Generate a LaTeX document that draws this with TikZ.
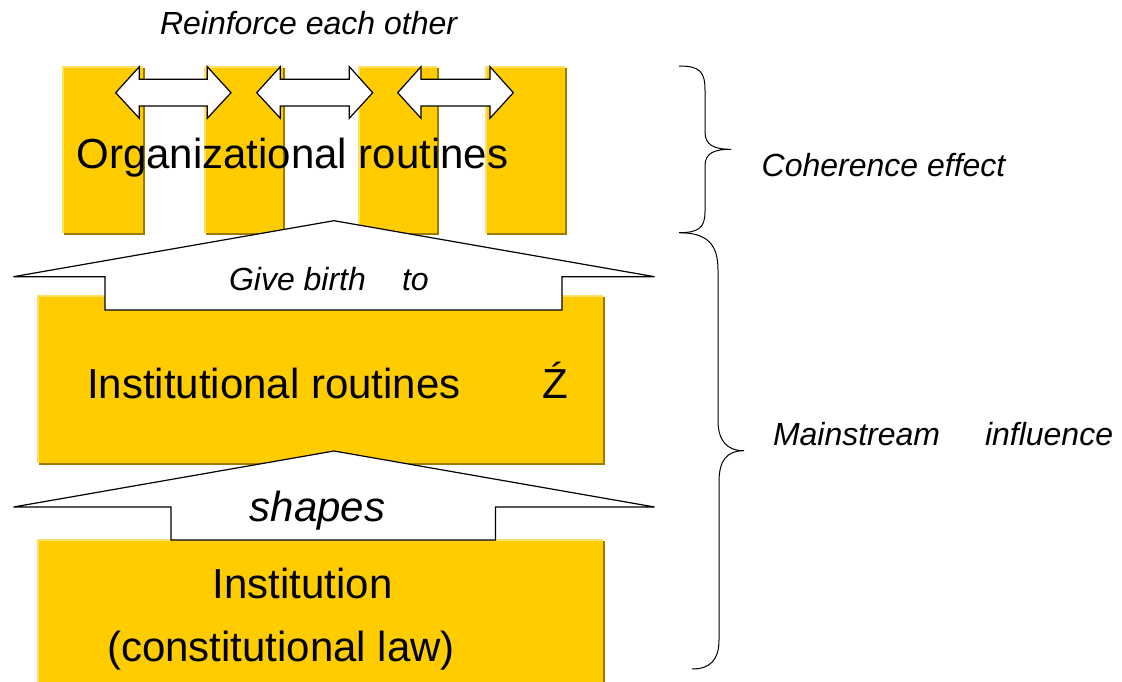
\documentclass[tikz,border=0pt]{standalone}
\usepackage{fontspec}
\setmainfont{Liberation Sans}
\definecolor{gold}{HTML}{FFCC00}
\definecolor{goldshadow}{HTML}{9C7C00}
\definecolor{goldlight}{HTML}{FFE066}
\tikzset{
  blockarrow/.style={fill=white, draw=black, line width=1.2pt, line join=miter},
  bracepath/.style={draw=black, line width=1pt},
  lbl/.style={inner sep=0pt, outer sep=0pt},
  bigtxt/.style={lbl, font=\fontsize{42}{50}\selectfont},
  bigit/.style={lbl, font=\fontsize{42}{50}\selectfont\itshape},
  smit/.style={lbl, font=\fontsize{32}{38}\selectfont\itshape},
}
\newcommand\goldbox[4]{%
  \fill[goldshadow] ({#1+2},{#2+2}) rectangle ({#3+2},{#4+2});
  \fill[goldlight] (#1,#2) rectangle (#3,#4);
  \fill[gold] ({#1+2},{#2+2}) rectangle (#3,#4);
}
\newcommand\dblarrow[4]{%
  \draw[blockarrow] (#1,92.7) -- (#2,66.7) -- (#2,79.3) -- (#3,79.3) -- (#3,66.7)
    -- (#4,92.7) -- (#3,118.3) -- (#3,106) -- (#2,106) -- (#2,118.3) -- cycle;
}
\begin{document}
\begin{tikzpicture}[x=1pt, y=-1pt]
\useasboundingbox (0,0) rectangle (1122,681);
\fill[white] (0,0) rectangle (1122,681);

% top bars
\goldbox{62}{66}{143}{233}
\goldbox{204}{66}{283}{233}
\goldbox{358}{66}{437}{233}
\goldbox{485}{66}{565}{233}

% reinforcing double arrows
\dblarrow{115.7}{139.3}{207.3}{231}
\dblarrow{256.7}{280.3}{349.3}{372.7}
\dblarrow{397.7}{421}{490}{513.3}

\node[smit, anchor=base west] (reinforce) at (160,34.3) {Reinforce each other};
\node[bigtxt, anchor=base] (orgroutines) at (292.5,168) {Organizational routines};

% institutional routines box
\goldbox{37}{295}{603}{463}
\node[bigtxt, anchor=base west] (instroutines) at (87,398) {Institutional routines};
\node[bigtxt, anchor=base west] (zacute) at (542,398) {Ź};

% give birth arrow
\draw[blockarrow] (334,220.7) -- (654.6,276.7) -- (562,276.7) -- (562,310)
  -- (105,310) -- (105,276.7) -- (13.4,276.7) -- cycle;
\node[smit, anchor=base west] (givebirth) at (229,290.7) {Give birth};
\node[smit, anchor=base west] (to) at (402,290.7) {to};

% institution box
\goldbox{37}{539}{603}{700}
\node[bigtxt, anchor=base] (institution) at (302.7,598) {Institution};
\node[bigtxt, anchor=base] (constlaw) at (281,661) {(constitutional law)};

% shapes arrow
\draw[blockarrow] (334,451) -- (654.6,507) -- (495.5,507) -- (495.5,540)
  -- (171,540) -- (171,507) -- (13.4,507) -- cycle;
\node[bigit, anchor=base] (shapes) at (317.6,521) {shapes};

% braces
\draw[bracepath] (679,66) .. controls (700,66) and (705,72) .. (705,90)
  -- (705,132) .. controls (705,145) and (714,149.3) .. (731,149.3)
  .. controls (714,149.3) and (705,153) .. (705,166)
  -- (705,212) .. controls (705,228) and (698,232.7) .. (679,232.7);
\draw[bracepath] (679,232.7) .. controls (708,232.7) and (718,245) .. (718,270)
  -- (718,420) .. controls (718,441) and (727,450.7) .. (744,450.7)
  .. controls (727,450.7) and (719,460) .. (719,482)
  -- (719,640) .. controls (719,660) and (710,669) .. (692,669);

\node[smit, anchor=base west] (coherence) at (761.7,176) {Coherence effect};
\node[smit, anchor=base west] (mainstream) at (773,445) {Mainstream};
\node[smit, anchor=base west] (influence) at (985,445) {influence};
\end{tikzpicture}
\end{document}
